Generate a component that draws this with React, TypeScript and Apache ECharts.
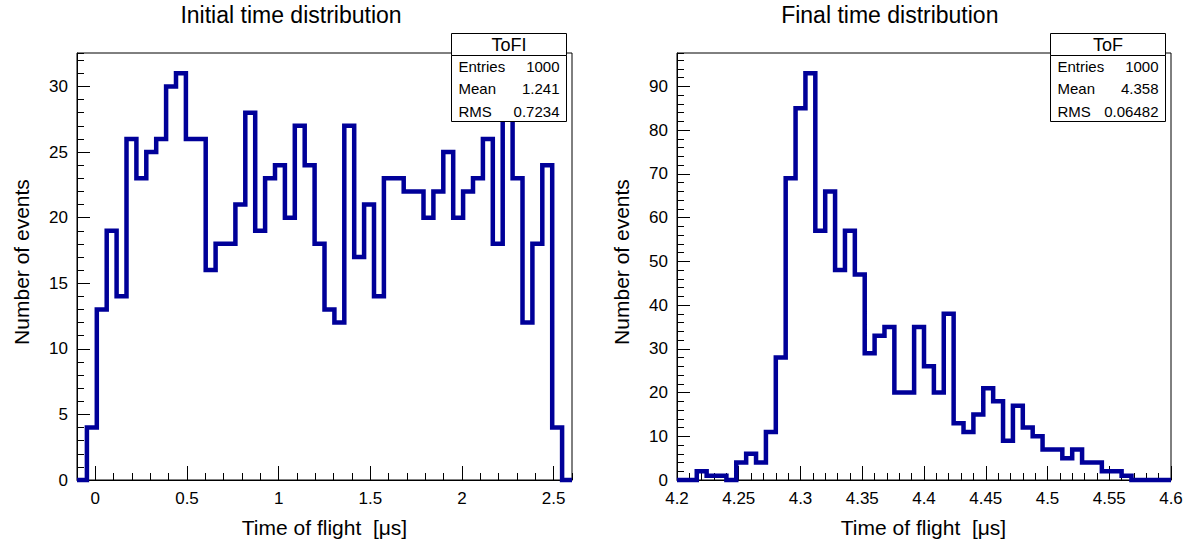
import React, { useEffect, useRef } from "react";
import * as echarts from "echarts";

// ---------- data ----------
const leftTitle = "Initial time distribution";
const rightTitle = "Final time distribution";
const yTitle = "Number of events";
const xTitle = "Time of flight  [\u03bcs]";

const leftXMin = -0.1;
const leftXMax = 2.6;
const leftYMax = 32.55;
const leftCounts = [
  0, 4, 13, 19, 14, 26, 23, 25, 26, 30, 31, 26, 26, 16, 18, 18, 21, 28, 19, 23,
  24, 20, 27, 24, 18, 13, 12, 27, 17, 21, 14, 23, 23, 22, 22, 20, 22, 25, 20, 22,
  23, 26, 18, 30, 23, 12, 18, 24, 4, 0,
];

const rightXMin = 4.2;
const rightXMax = 4.6;
const rightYMax = 97.65;
const rightCounts = [
  0, 0, 2, 1, 1, 0, 4, 6, 4, 11, 28, 69, 85, 93, 57, 66, 48, 57, 47, 29, 33, 35,
  20, 20, 35, 26, 20, 38, 13, 11, 15, 21, 18, 9, 17, 12, 10, 7, 7, 5, 7, 4, 4, 2,
  2, 1, 0, 0, 0, 0,
];

const leftXTicks = [0, 0.5, 1, 1.5, 2, 2.5];
const leftYTicks = [0, 5, 10, 15, 20, 25, 30];
const rightXTicks = [4.2, 4.25, 4.3, 4.35, 4.4, 4.45, 4.5, 4.55, 4.6];
const rightYTicks = [0, 10, 20, 30, 40, 50, 60, 70, 80, 90];

const statLabels = ["Entries", "Mean", "RMS"];
const leftStatName = "ToFI";
const leftStatValues = ["1000", "1.241", "0.7234"];
const rightStatName = "ToF";
const rightStatValues = ["1000", "4.358", "0.06482"];

// ---------- helpers ----------
const FONT = '"Liberation Sans", Arial, Helvetica, sans-serif';
const LINE_COLOR = "#000099";

function stepData(counts: number[], xmin: number, xmax: number) {
  const w = (xmax - xmin) / counts.length;
  const pts: number[][] = counts.map((c, i) => [xmin + i * w, c]);
  pts.push([xmax, counts[counts.length - 1]]);
  return pts;
}

const tickLine = { color: "#000", width: 1 };

function mainX(grid: number, min: number, max: number, minorInterval: number, ticks: number[]) {
  return {
    type: "value",
    gridIndex: grid,
    position: "bottom",
    min,
    max,
    interval: minorInterval,
    axisLine: { show: true, onZero: false, lineStyle: tickLine },
    axisTick: { show: true, inside: true, length: 14, lineStyle: tickLine, customValues: ticks },
    axisLabel: {
      show: true,
      customValues: ticks,
      margin: 10,
      color: "#000",
      fontSize: 17,
      fontFamily: FONT,
      formatter: (v: number) => String(v),
    },
    splitLine: { show: false },
  };
}

function minorX(grid: number, min: number, max: number, interval: number) {
  return {
    type: "value",
    gridIndex: grid,
    position: "bottom",
    min,
    max,
    interval,
    axisLine: { show: false, onZero: false },
    axisTick: { show: true, inside: true, length: 7, lineStyle: tickLine },
    axisLabel: { show: false },
    splitLine: { show: false },
  };
}

function mainY(grid: number, max: number, minorInterval: number, ticks: number[]) {
  return {
    type: "value",
    gridIndex: grid,
    position: "left",
    min: 0,
    max,
    interval: minorInterval,
    axisLine: { show: true, onZero: false, lineStyle: tickLine },
    axisTick: { show: true, inside: true, length: 13, lineStyle: tickLine, customValues: ticks },
    axisLabel: {
      show: true,
      customValues: ticks,
      margin: 9,
      color: "#000",
      fontSize: 17,
      fontFamily: FONT,
      formatter: (v: number) => String(v),
    },
    splitLine: { show: false },
  };
}

function minorY(grid: number, max: number, interval: number) {
  return {
    type: "value",
    gridIndex: grid,
    position: "left",
    min: 0,
    max,
    interval,
    axisLine: { show: false, onZero: false },
    axisTick: { show: true, inside: true, length: 7, lineStyle: tickLine },
    axisLabel: { show: false },
    splitLine: { show: false },
  };
}

function textEl(text: string, x: number, y: number, size: number, align: string, rotation = 0) {
  return {
    type: "text",
    x,
    y,
    rotation,
    z: 100,
    style: {
      text,
      fill: "#000",
      fontSize: size,
      fontFamily: FONT,
      textAlign: align,
      textVerticalAlign: "middle",
    },
  };
}

function statBox(left: number, name: string, values: string[]) {
  const w = 115;
  const top = 33.5;
  const titleH = 22;
  const bodyH = 66;
  const rowY = [66.5, 88.8, 111.5];
  const els: any[] = [
    {
      type: "rect",
      z: 100,
      shape: { x: left, y: top + titleH, width: w, height: bodyH },
      style: { fill: "#fff", stroke: "#000", lineWidth: 1 },
    },
    {
      type: "rect",
      z: 100,
      shape: { x: left, y: top, width: w, height: titleH },
      style: { fill: "#fff", stroke: "#000", lineWidth: 1 },
    },
    textEl(name, left + w / 2, 44.8, 18, "center"),
  ];
  statLabels.forEach((lab, i) => {
    els.push(textEl(lab, left + 7, rowY[i], 15, "left"));
    els.push(textEl(values[i], left + w - 7, rowY[i], 15, "right"));
  });
  return els;
}

export default function App() {
  const ref = useRef<HTMLDivElement>(null);

  useEffect(() => {
    if (!ref.current) return;
    const chart = echarts.init(ref.current, undefined, { renderer: "svg" });
    const option: any = {
      animation: false,
      backgroundColor: "#fff",
      grid: [
        { left: 77, top: 53, width: 495, height: 427, show: true, borderColor: "#000", borderWidth: 1, backgroundColor: "transparent" },
        { left: 677, top: 53, width: 494, height: 427, show: true, borderColor: "#000", borderWidth: 1, backgroundColor: "transparent" },
      ],
      xAxis: [
        mainX(0, leftXMin, leftXMax, 0.1, leftXTicks),
        minorX(0, leftXMin, leftXMax, 0.1),
        mainX(1, rightXMin, rightXMax, 0.01, rightXTicks),
        minorX(1, rightXMin, rightXMax, 0.01),
      ],
      yAxis: [
        mainY(0, leftYMax, 1, leftYTicks),
        minorY(0, leftYMax, 1),
        mainY(1, rightYMax, 2, rightYTicks),
        minorY(1, rightYMax, 2),
      ],
      series: [
        {
          type: "line",
          xAxisIndex: 0,
          yAxisIndex: 0,
          step: "end",
          symbol: "none",
          clip: false,
          silent: true,
          data: stepData(leftCounts, leftXMin, leftXMax),
          lineStyle: { color: LINE_COLOR, width: 4.5, join: "miter", cap: "butt" },
        },
        {
          type: "line",
          xAxisIndex: 2,
          yAxisIndex: 2,
          step: "end",
          symbol: "none",
          clip: false,
          silent: true,
          data: stepData(rightCounts, rightXMin, rightXMax),
          lineStyle: { color: LINE_COLOR, width: 4.5, join: "miter", cap: "butt" },
        },
      ],
      graphic: [
        textEl(leftTitle, 291, 15.3, 23, "center"),
        textEl(rightTitle, 889.8, 15.3, 23, "center"),
        textEl(xTitle, 324.5, 527.7, 21, "center"),
        textEl(xTitle, 923.5, 527.7, 21, "center"),
        textEl(yTitle, 21, 262, 21, "center", Math.PI / 2),
        textEl(yTitle, 621, 262, 21, "center", Math.PI / 2),
        ...statBox(451.5, leftStatName, leftStatValues),
        ...statBox(1050.5, rightStatName, rightStatValues),
      ],
    };
    chart.setOption(option);
    return () => {
      chart.dispose();
    };
  }, []);

  return (
    <div
      ref={ref}
      style={{ position: "fixed", left: 0, top: 0, width: 1189, height: 550, background: "#fff" }}
    />
  );
}
